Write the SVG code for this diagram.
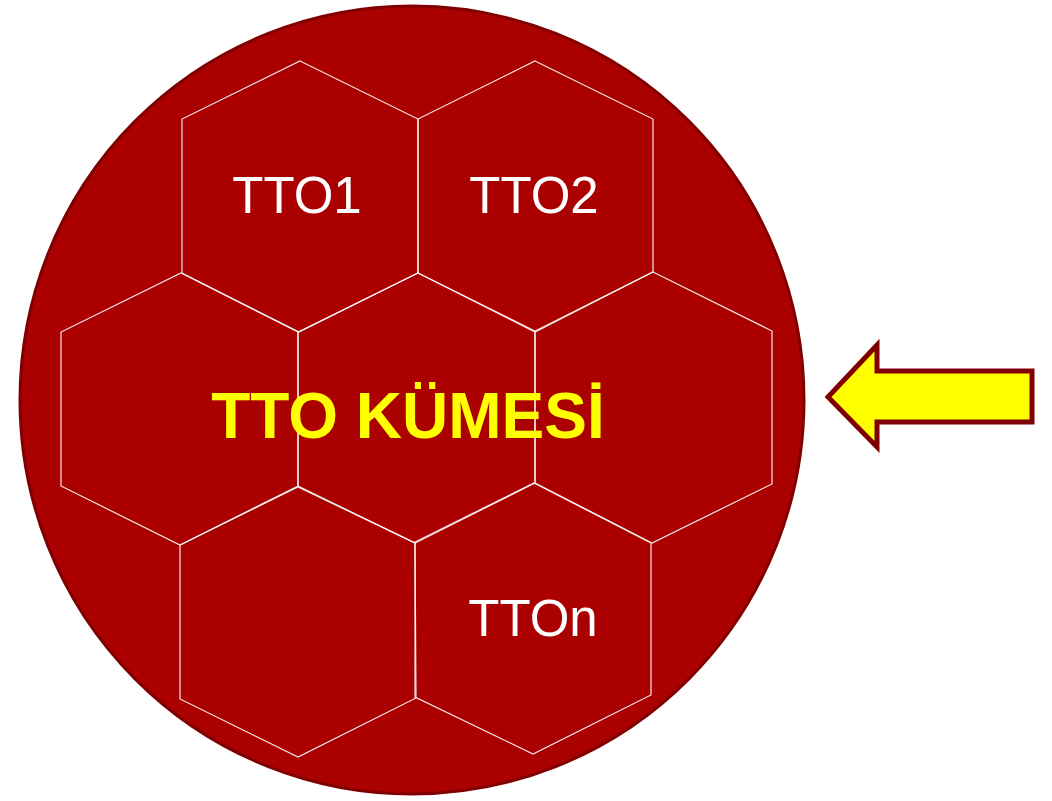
<svg xmlns="http://www.w3.org/2000/svg" width="1052" height="801" viewBox="0 0 1052 801">
<style>
.hex{fill:none;stroke:#ffffff;stroke-width:1.2;stroke-opacity:0.9;stroke-linejoin:miter}
.lbl{font-family:"Liberation Sans",Arial,sans-serif;font-size:51px;fill:#ffffff;text-anchor:middle}
.title{font-family:"Liberation Sans",Arial,sans-serif;font-size:64px;font-weight:bold;fill:#ffff00;text-anchor:middle}
</style>
<rect width="1052" height="801" fill="#ffffff"/>
<g id="cluster">
<ellipse cx="412" cy="400" rx="392" ry="394" fill="#aa0000" stroke="#800000" stroke-width="3"/>
</g>
<g id="hex-tto1">
<polygon class="hex" points="300,61 418,119 418,273 299,332 182,273 182,119"/>
<text class="lbl" x="297" y="213">TTO1</text>
</g>
<g id="hex-tto2">
<polygon class="hex" points="535,61 653,119 653,272 535,332 418,273 418,119"/>
<text class="lbl" x="534" y="213">TTO2</text>
</g>
<g id="hex-left">
<polygon class="hex" points="181,273 298,332 298,486 180,545 61,486 61,332"/>
</g>
<g id="hex-center">
<polygon class="hex" points="418,273 535,331 535,483 415,543 298,486 298,332"/>
</g>
<g id="hex-right">
<polygon class="hex" points="653,272 772,331 772,484 652,543 535,483 535,331"/>
</g>
<g id="hex-bottom-left">
<polygon class="hex" points="298,487 415,543 416,698 298,757 180,699 180,545"/>
</g>
<g id="hex-tton">
<polygon class="hex" points="534,483 651,543 651,695 533,754 415,697 415,542"/>
<text class="lbl" x="533" y="636">TTOn</text>
</g>
<g id="title">
<text class="title" x="408" y="438">TTO KÜMESİ</text>
</g>
<g id="arrow">
<polygon points="828,397 877,345 877,371 1032,371 1032,422 877,422 877,447" fill="#ffff00" stroke="#800000" stroke-width="5" stroke-linejoin="miter"/>
</g>
<g id="connectors"></g>
</svg>
